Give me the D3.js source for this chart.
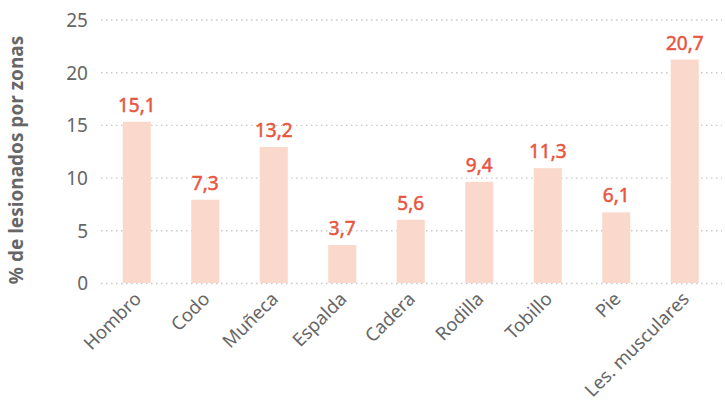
<!DOCTYPE html>
<html><head><meta charset="utf-8">
<script src="https://cdn.jsdelivr.net/npm/d3@7"></script>
<style>body{margin:0;background:#fff}</style>
</head><body><svg id="c" width="725" height="401"></svg>
<script>
const categories = ["Hombro","Codo","Muñeca","Espalda","Cadera","Rodilla","Tobillo","Pie","Les. musculares"];
const barValues = [15.3, 7.9, 12.9, 3.6, 6.0, 9.6, 10.9, 6.7, 21.2];
const labelTexts = ["15,1","7,3","13,2","3,7","5,6","9,4","11,3","6,1","20,7"];
const yTicks = [0,5,10,15,20,25];
const yTitle = "% de lesionados por zonas";

const svg = d3.select("#c");
const font = "'Noto Sans', sans-serif";
const x = d3.scaleBand().domain(categories).range([102.5, 719]).paddingInner(0.59).paddingOuter(0.295);
const y = d3.scaleLinear().domain([0,25]).range([283, 19.5]);

// grid
const grid = svg.append("g");
grid.selectAll("line").data(yTicks).join("line")
  .attr("x1", 101).attr("x2", 722)
  .attr("y1", d => y(d)+0.5).attr("y2", d => y(d)+0.5)
  .attr("stroke", "#c8c8c8").attr("stroke-width", 1.4).attr("stroke-dasharray", "1.5,3.5");

// y axis
const yAxis = svg.append("g").attr("transform","translate(88,0)")
  .call(d3.axisLeft(y).tickValues(yTicks).tickSize(0).tickPadding(0).tickFormat(d3.format("d")));
yAxis.select(".domain").remove();
yAxis.selectAll("text").attr("font-family", font).attr("font-size", 19).attr("fill", "#666").attr("dy","0.36em");

// bars
svg.append("g").selectAll("rect").data(categories).join("rect")
  .attr("x", d => x(d)).attr("width", x.bandwidth())
  .attr("y", (d,i) => y(barValues[i])).attr("height", (d,i) => y(0) - y(barValues[i]))
  .attr("fill", "#fad9cc");

// value labels
svg.append("g").selectAll("text").data(categories).join("text")
  .attr("x", d => x(d) + x.bandwidth()/2)
  .attr("y", (d,i) => y(barValues[i]) - 10)
  .attr("text-anchor","middle")
  .attr("font-family", font).attr("font-size", 19)
  .attr("fill", "#e8553f").attr("stroke", "#e8553f").attr("stroke-width", 0.5)
  .text((d,i) => labelTexts[i]);

// x axis
const xAxis = svg.append("g").attr("transform", `translate(0,${y(0)})`)
  .call(d3.axisBottom(x).tickSize(0).tickPadding(0));
xAxis.select(".domain").remove();
xAxis.selectAll("text")
  .attr("font-family", font).attr("font-size", 18.5).attr("fill", "#666")
  .attr("text-anchor","end")
  .attr("transform", "translate(1,12.5) rotate(-45)")
  .attr("dy","0.35em").attr("y",0).attr("x",0);

// y title
svg.append("text")
  .attr("transform", "translate(23,160) rotate(-90)")
  .attr("text-anchor","middle")
  .attr("font-family", font).attr("font-size", 19).attr("font-weight", 700)
  .attr("fill", "#666")
  .text(yTitle);
</script></body></html>
